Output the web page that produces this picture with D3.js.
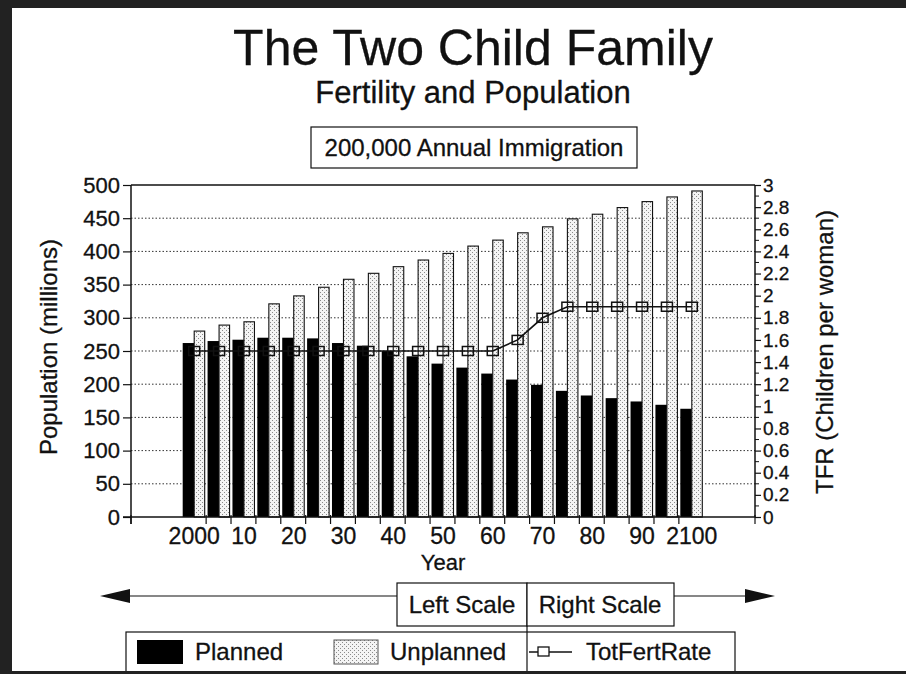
<!DOCTYPE html>
<html>
<head>
<meta charset="utf-8">
<script src="https://cdn.jsdelivr.net/npm/d3@7"></script>
<style>
body { margin: 0; background: #fff; }
text { font-family: "Liberation Sans", Arial, Helvetica, sans-serif; fill: #111; stroke: #111; stroke-width: 0.3px; }
</style>
</head>
<body>
<div id="chart"></div>
<script>
let years = d3.range(2000, 2101, 5);
let planned = [262, 265, 267, 270, 270, 269, 262, 258, 250, 242, 231, 225, 216, 207, 199, 190, 183, 179, 174, 169, 163];
let unplanned = [280, 289, 294, 321, 333, 346, 358, 367, 377, 387, 397, 408, 417, 428, 437, 449, 456, 466, 475, 482, 491];
let tfr = [1.5, 1.5, 1.5, 1.5, 1.5, 1.5, 1.5, 1.5, 1.5, 1.5, 1.5, 1.5, 1.5, 1.6, 1.8, 1.9, 1.9, 1.9, 1.9, 1.9, 1.9];
let leftTicks = d3.range(0, 501, 50);
let rightTicks = d3.range(0, 31, 2).map(function (d) { return d / 10; });
let yearLabels = [2000, 2010, 2020, 2030, 2040, 2050, 2060, 2070, 2080, 2090, 2100];

let W = 906, H = 674;
let pL = 131, pR = 755, pT = 185, pB = 517;

let svg = d3.select("#chart").append("svg")
	.attr("width", W)
	.attr("height", H);

let defs = svg.append("defs");
let pat = defs.append("pattern")
	.attr("id", "dots")
	.attr("width", 4)
	.attr("height", 4)
	.attr("patternUnits", "userSpaceOnUse");
pat.append("rect").attr("width", 4).attr("height", 4).attr("fill", "#f4f4f4");
pat.append("rect").attr("x", 0).attr("y", 0).attr("width", 1).attr("height", 1).attr("fill", "#8a8a8a");
pat.append("rect").attr("x", 2).attr("y", 2).attr("width", 1).attr("height", 1).attr("fill", "#8a8a8a");

svg.append("rect").attr("width", W).attr("height", H).attr("fill", "#fff");

// frame from the scan
svg.append("rect").attr("x", 0).attr("y", 0).attr("width", W).attr("height", 8).attr("fill", "#222");
svg.append("rect").attr("x", 0).attr("y", 0).attr("width", 12).attr("height", H).attr("fill", "#222");

// titles
svg.append("text").attr("x", 473).attr("y", 65).attr("text-anchor", "middle")
	.style("font-size", "50px").text("The Two Child Family");
svg.append("text").attr("x", 473).attr("y", 103).attr("text-anchor", "middle")
	.style("font-size", "31px").text("Fertility and Population");
svg.append("rect").attr("x", 311).attr("y", 127).attr("width", 326).attr("height", 41)
	.attr("fill", "none").attr("stroke", "#111").attr("stroke-width", 1.2);
svg.append("text").attr("x", 474).attr("y", 156).attr("text-anchor", "middle")
	.style("font-size", "24px").text("200,000 Annual Immigration");

let x = d3.scaleBand()
	.domain(years)
	.range([pL, pR])
	.paddingInner(0)
	.paddingOuter(2.04);
let bw = x.bandwidth();

let y = d3.scaleLinear().domain([0, 500]).range([pB, pT]);
let y2 = d3.scaleLinear().domain([0, 3]).range([pB, pT]);

// dotted grid
svg.selectAll("line.grid")
	.data(leftTicks.filter(function (d) { return d > 0 && d < 500; }))
	.enter().append("line")
	.attr("class", "grid")
	.attr("x1", pL).attr("x2", pR)
	.attr("y1", function (d) { return y(d); })
	.attr("y2", function (d) { return y(d); })
	.attr("stroke", "#333")
	.attr("stroke-width", 1)
	.attr("stroke-dasharray", "1.5,2");

// bars
svg.selectAll("rect.planned")
	.data(planned)
	.enter().append("rect")
	.attr("class", "planned")
	.attr("x", function (d, i) { return x(years[i]) + bw / 2 - 11.5; })
	.attr("y", function (d) { return y(d); })
	.attr("width", 11.5)
	.attr("height", function (d) { return pB - y(d); })
	.attr("fill", "#000");

svg.selectAll("rect.unplanned")
	.data(unplanned)
	.enter().append("rect")
	.attr("class", "unplanned")
	.attr("x", function (d, i) { return x(years[i]) + bw / 2; })
	.attr("y", function (d) { return y(d); })
	.attr("width", 10.5)
	.attr("height", function (d) { return pB - y(d); })
	.attr("fill", "url(#dots)")
	.attr("stroke", "#111")
	.attr("stroke-width", 1.1);

// plot frame lines
svg.append("line").attr("x1", pL).attr("x2", pR).attr("y1", pT).attr("y2", pT)
	.attr("stroke", "#111").attr("stroke-width", 1.5);
svg.append("line").attr("x1", pL - 8).attr("x2", pR).attr("y1", pB).attr("y2", pB)
	.attr("stroke", "#111").attr("stroke-width", 1.5);

// left axis
let gl = svg.append("g").attr("transform", "translate(" + pL + ",0)")
	.call(d3.axisLeft(y).tickValues(leftTicks).tickSize(8).tickPadding(3));
gl.select(".domain").attr("stroke", "#111").attr("stroke-width", 1.5).attr("d", "M0," + pT + "V" + (pB + 7));
gl.selectAll(".tick line").attr("stroke", "#111").attr("stroke-width", 1.2);
gl.selectAll("text").style("font-size", "22px").attr("fill", "#111");

// right axis
let gr = svg.append("g").attr("transform", "translate(" + pR + ",0)")
	.call(d3.axisRight(y2).tickValues(rightTicks).tickSize(6).tickPadding(2)
		.tickFormat(function (d) { return d3.format("~g")(d); }));
gr.select(".domain").attr("stroke", "#111").attr("stroke-width", 1.5).attr("d", "M0," + pT + "V" + pB);
gr.selectAll(".tick line").attr("stroke", "#111").attr("stroke-width", 1.2);
gr.selectAll("text").style("font-size", "19px").attr("fill", "#111");
gr.selectAll("line.minor")
	.data(rightTicks.slice(0, -1))
	.enter().append("line")
	.attr("class", "minor")
	.attr("x1", 0).attr("x2", 4)
	.attr("y1", function (d) { return y2(d + 0.1); })
	.attr("y2", function (d) { return y2(d + 0.1); })
	.attr("stroke", "#111");

// x axis ticks at group edges and labels at decades
let xTicks = [pL, pR].concat(years.slice(1).map(function (d) { return x(d) - 0.5; }));
svg.selectAll("line.xt")
	.data(xTicks)
	.enter().append("line")
	.attr("class", "xt")
	.attr("x1", function (d) { return d; })
	.attr("x2", function (d) { return d; })
	.attr("y1", pB - 2).attr("y2", pB + 7)
	.attr("stroke", "#111").attr("stroke-width", 1.2);
svg.selectAll("text.xl")
	.data(yearLabels)
	.enter().append("text")
	.attr("class", "xl")
	.attr("x", function (d) { return x(d) + bw / 2; })
	.attr("y", 544)
	.attr("text-anchor", "middle")
	.style("font-size", "23px")
	.text(function (d) { return (d === 2000 || d === 2100) ? d : String(d).slice(2); });

// TFR line
let line = d3.line()
	.x(function (d, i) { return x(years[i]) + bw / 2; })
	.y(function (d) { return y2(d); });
svg.append("path").datum(tfr)
	.attr("d", line)
	.attr("fill", "none")
	.attr("stroke", "#111")
	.attr("stroke-width", 1.6);
svg.selectAll("rect.mark")
	.data(tfr)
	.enter().append("rect")
	.attr("class", "mark")
	.attr("x", function (d, i) { return x(years[i]) + bw / 2 - 5.5; })
	.attr("y", function (d) { return y2(d) - 4.5; })
	.attr("width", 11)
	.attr("height", 9)
	.attr("fill", "none")
	.attr("stroke", "#111")
	.attr("stroke-width", 1.5);

// axis titles
svg.append("text").attr("transform", "translate(57,347) rotate(-90)")
	.attr("text-anchor", "middle").style("font-size", "24px").text("Population (millions)");
svg.append("text").attr("transform", "translate(833,352) rotate(-90)")
	.attr("text-anchor", "middle").style("font-size", "24px").text("TFR (Children per woman)");
svg.append("text").attr("x", 443).attr("y", 570).attr("text-anchor", "middle")
	.style("font-size", "22px").text("Year");

// scale arrows
svg.append("line").attr("x1", 120).attr("x2", 397).attr("y1", 596).attr("y2", 596).attr("stroke", "#111").attr("stroke-width", 1.2);
svg.append("line").attr("x1", 674).attr("x2", 760).attr("y1", 596).attr("y2", 596).attr("stroke", "#111").attr("stroke-width", 1.2);
svg.append("path").attr("d", "M100,596 L130,589 L130,603 Z").attr("fill", "#111");
svg.append("path").attr("d", "M775,596 L745,589 L745,603 Z").attr("fill", "#111");
svg.append("rect").attr("x", 397).attr("y", 583).attr("width", 130).attr("height", 43)
	.attr("fill", "#fff").attr("stroke", "#111").attr("stroke-width", 1.2);
svg.append("rect").attr("x", 527).attr("y", 583).attr("width", 147).attr("height", 43)
	.attr("fill", "#fff").attr("stroke", "#111").attr("stroke-width", 1.2);
svg.append("text").attr("x", 462).attr("y", 613).attr("text-anchor", "middle")
	.style("font-size", "24px").text("Left Scale");
svg.append("text").attr("x", 600).attr("y", 613).attr("text-anchor", "middle")
	.style("font-size", "24px").text("Right Scale");

// legend
svg.append("rect").attr("x", 126).attr("y", 632).attr("width", 609).attr("height", 50)
	.attr("fill", "#fff").attr("stroke", "#111").attr("stroke-width", 1.2);
svg.append("line").attr("x1", 527).attr("x2", 527).attr("y1", 626).attr("y2", 671)
	.attr("stroke", "#111").attr("stroke-width", 1.2);
svg.append("rect").attr("x", 137).attr("y", 640).attr("width", 46).attr("height", 24).attr("fill", "#000");
svg.append("text").attr("x", 195).attr("y", 660).style("font-size", "24px").text("Planned");
svg.append("rect").attr("x", 334).attr("y", 640).attr("width", 44).attr("height", 24)
	.attr("fill", "url(#dots)").attr("stroke", "#555").attr("stroke-width", 1);
svg.append("text").attr("x", 390).attr("y", 660).style("font-size", "24px").text("Unplanned");
svg.append("line").attr("x1", 529).attr("x2", 572).attr("y1", 652).attr("y2", 652).attr("stroke", "#111").attr("stroke-width", 1.3);
svg.append("rect").attr("x", 538).attr("y", 647).attr("width", 11).attr("height", 9)
	.attr("fill", "#fff").attr("stroke", "#111").attr("stroke-width", 1.3);
svg.append("text").attr("x", 586).attr("y", 660).style("font-size", "24px").text("TotFertRate");

// bottom frame on top of legend box
svg.append("rect").attr("x", 0).attr("y", 671).attr("width", W).attr("height", 3).attr("fill", "#222");
</script>
</body>
</html>
